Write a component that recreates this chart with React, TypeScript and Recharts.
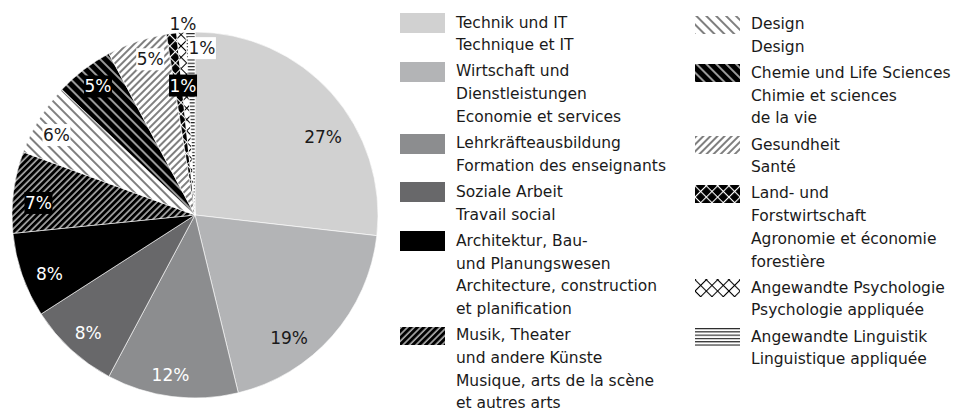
import { PieChart, Pie, Cell, Legend } from "recharts";

const categories = [
  "Technik und IT",
  "Wirtschaft und Dienstleistungen",
  "Lehrkräfteausbildung",
  "Soziale Arbeit",
  "Architektur, Bau- und Planungswesen",
  "Musik, Theater und andere Künste",
  "Design",
  "Chemie und Life Sciences",
  "Gesundheit",
  "Land- und Forstwirtschaft",
  "Angewandte Psychologie",
  "Angewandte Linguistik"
];

// share of students in %
const shares = [26.8, 19.4, 11.6, 8.1, 7.5, 7.2, 6.4, 5.2, 5.3, 0.9, 0.8, 0.8];

const legendLines = [
  ["Technik und IT", "Technique et IT"],
  ["Wirtschaft und", "Dienstleistungen", "Economie et services"],
  ["Lehrkräfteausbildung", "Formation des enseignants"],
  ["Soziale Arbeit", "Travail social"],
  ["Architektur, Bau-", "und Planungswesen", "Architecture, construction", "et planification"],
  ["Musik, Theater", "und andere Künste", "Musique, arts de la scène", "et autres arts"],
  ["Design", "Design"],
  ["Chemie und Life Sciences", "Chimie et sciences", "de la vie"],
  ["Gesundheit", "Santé"],
  ["Land- und", "Forstwirtschaft", "Agronomie et économie", "forestière"],
  ["Angewandte Psychologie", "Psychologie appliquée"],
  ["Angewandte Linguistik", "Linguistique appliquée"]
];

const fills = [
  "#d1d1d1",
  "#b3b4b6",
  "#8c8d8f",
  "#68686a",
  "#000000",
  "url(#p-musik)",
  "url(#p-design)",
  "url(#p-chemie)",
  "url(#p-gesund)",
  "url(#p-land)",
  "url(#p-psych)",
  "url(#p-ling)"
];

// label look: box colour and where it sits (radius / angle nudge)
const labelStyle: { box: string | null; text: string; r: number; da: number }[] = [
  { box: null, text: "#1a1a1a", r: 150, da: -10.4 },
  { box: null, text: "#1a1a1a", r: 155, da: -11.2 },
  { box: null, text: "#ffffff", r: 162, da: -1.5 },
  { box: null, text: "#ffffff", r: 159, da: 0.5 },
  { box: null, text: "#ffffff", r: 157, da: 2.7 },
  { box: "#000", text: "#ffffff", r: 157, da: 2.8 },
  { box: "#fff", text: "#1a1a1a", r: 160, da: 1.7 },
  { box: "#000", text: "#ffffff", r: 161, da: -0.4 },
  { box: "#fff", text: "#1a1a1a", r: 162, da: -2.5 },
  { box: "#000", text: "#ffffff", r: 130, da: -2.1 },
  { box: "#fff", text: "#1a1a1a", r: 167, da: -6.7 },
  { box: null, text: "#1a1a1a", r: 191, da: 2.2 }
];

const data = categories.map((name, i) => ({ name, value: shares[i] }));

const RADIAN = Math.PI / 180;
const FONT = "'DejaVu Sans', sans-serif";

function renderLabel(props: any) {
  const { cx, cy, midAngle, index, value } = props;
  const s = labelStyle[index];
  const a = midAngle + s.da;
  const x = cx + s.r * Math.cos(-a * RADIAN);
  const y = cy + s.r * Math.sin(-a * RADIAN);
  const txt = `${Math.round(value)}%`;
  const w = txt.length * 11 + 6;
  return (
    <g key={`lbl-${index}`}>
      {s.box && <rect x={x - w / 2} y={y - 11} width={w} height={22} fill={s.box} />}
      <text
        x={x}
        y={y}
        fill={s.text}
        fontSize={17}
        fontFamily={FONT}
        textAnchor="middle"
        dominantBaseline="central"
      >
        {txt}
      </text>
    </g>
  );
}

function Patterns() {
  return (
    <svg width={0} height={0} style={{ position: "absolute" }}>
      <defs>
        <pattern id="p-musik" width={4.6} height={10} patternUnits="userSpaceOnUse" patternTransform="rotate(45)">
          <rect width={4.6} height={10} fill="#000" />
          <line x1={1} y1={0} x2={1} y2={10} stroke="#d8d8d8" strokeWidth={1.3} />
        </pattern>
        <pattern id="p-design" width={7} height={10} patternUnits="userSpaceOnUse" patternTransform="rotate(-45)">
          <rect width={7} height={10} fill="#fff" />
          <line x1={1} y1={0} x2={1} y2={10} stroke="#000" strokeWidth={1} />
        </pattern>
        <pattern id="p-chemie" width={7} height={10} patternUnits="userSpaceOnUse" patternTransform="rotate(-45)">
          <rect width={7} height={10} fill="#000" />
          <line x1={1} y1={0} x2={1} y2={10} stroke="#fff" strokeWidth={1.2} />
        </pattern>
        <pattern id="p-gesund" width={5} height={10} patternUnits="userSpaceOnUse" patternTransform="rotate(45)">
          <rect width={5} height={10} fill="#fff" />
          <line x1={1} y1={0} x2={1} y2={10} stroke="#000" strokeWidth={1} />
        </pattern>
        <pattern id="p-land" width={8} height={8} patternUnits="userSpaceOnUse" patternTransform="rotate(45)">
          <rect width={8} height={8} fill="#000" />
          <line x1={0.5} y1={0} x2={0.5} y2={8} stroke="#fff" strokeWidth={1.2} />
          <line x1={0} y1={0.5} x2={8} y2={0.5} stroke="#fff" strokeWidth={1.2} />
        </pattern>
        <pattern id="p-psych" width={8} height={8} patternUnits="userSpaceOnUse" patternTransform="rotate(45)">
          <rect width={8} height={8} fill="#fff" />
          <line x1={0.5} y1={0} x2={0.5} y2={8} stroke="#000" strokeWidth={1.1} />
          <line x1={0} y1={0.5} x2={8} y2={0.5} stroke="#000" strokeWidth={1.1} />
        </pattern>
        <pattern id="p-ling" width={10} height={3.3} patternUnits="userSpaceOnUse">
          <rect width={10} height={3.3} fill="#fff" />
          <line x1={0} y1={0.6} x2={10} y2={0.6} stroke="#000" strokeWidth={1} />
        </pattern>
      </defs>
    </svg>
  );
}

const LINE_H = 22.7;
const GAP = 3.5;

function LegendColumn({ idx, left, top }: { idx: number[]; left: number; top: number }) {
  let y = top;
  return (
    <>
      {idx.map((i) => {
        const itemTop = y;
        y += legendLines[i].length * LINE_H + GAP;
        const solid = i < 5;
        return (
          <div key={i} style={{ position: "absolute", left, top: itemTop }}>
            <svg
              width={45}
              height={solid ? 20 : 18}
              style={{ position: "absolute", left: 0, top: solid ? 1.5 : 2.5 }}
            >
              <rect width={45} height={solid ? 20 : 18} fill={fills[i]} />
            </svg>
            <div
              style={{
                position: "absolute",
                left: 56,
                top: 0,
                whiteSpace: "nowrap",
                fontFamily: FONT,
                fontSize: 15.5,
                lineHeight: `${LINE_H}px`,
                color: "#1a1a1a"
              }}
            >
              {legendLines[i].map((l) => (
                <div key={l}>{l}</div>
              ))}
            </div>
          </div>
        );
      })}
    </>
  );
}

function ChartLegend() {
  return (
    <div style={{ position: "relative", width: 556, height: 412 }}>
      <LegendColumn idx={[0, 1, 2, 3, 4, 5]} left={0} top={11.5} />
      <LegendColumn idx={[6, 7, 8, 9, 10, 11]} left={295} top={13} />
    </div>
  );
}

export default function App() {
  return (
    <div style={{ position: "relative", width: 956, height: 412, background: "#fff" }}>
      <style>{`body{margin:0;background:#fff}`}</style>
      <Patterns />
      <PieChart width={956} height={412} margin={{ top: 0, right: 0, bottom: 0, left: 0 }}>
        <Pie
          data={data}
          dataKey="value"
          nameKey="name"
          cx={195}
          cy={215}
          outerRadius={183}
          startAngle={90}
          endAngle={-270}
          label={renderLabel}
          labelLine={false}
          stroke="#fff"
          strokeWidth={0.6}
          isAnimationActive={false}
        >
          {data.map((d, i) => (
            <Cell key={d.name} fill={fills[i]} />
          ))}
        </Pie>
        <Legend
          content={() => <ChartLegend />}
          wrapperStyle={{ position: "absolute", left: 400, top: 0, width: 556, height: 412 }}
        />
      </PieChart>
    </div>
  );
}
